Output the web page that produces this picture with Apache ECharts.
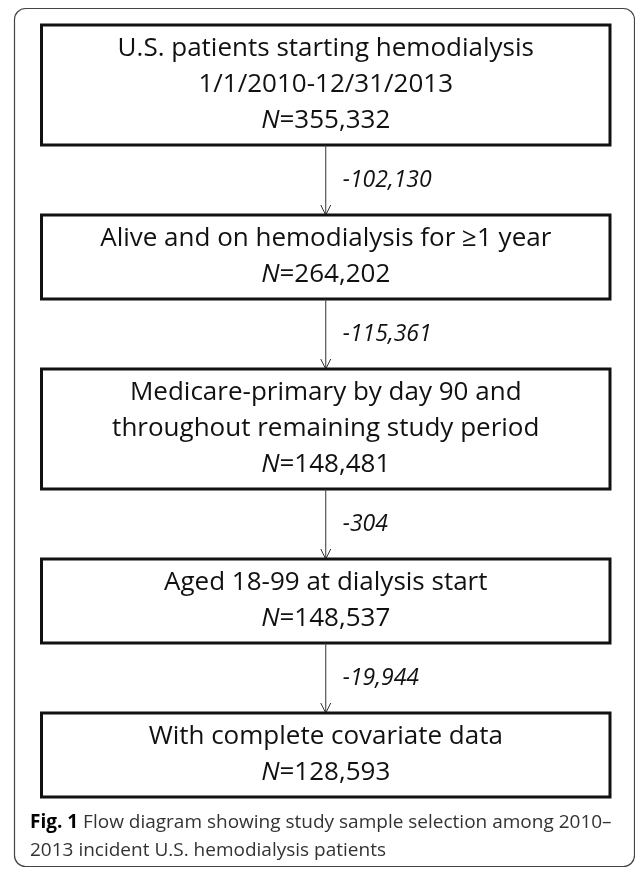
<!DOCTYPE html>
<html>
<head>
<meta charset="utf-8">
<title>Flow diagram</title>
<script src="https://cdn.jsdelivr.net/npm/echarts@6/dist/echarts.min.js"></script>
<style>
  html, body { margin: 0; padding: 0; background: #fff; }
  #chart { width: 635px; height: 869px; }
</style>
</head>
<body>
<div id="chart"></div>
<script>
'use strict';

// steps of the selection, top to bottom
var stepText = [
    ['U.S. patients starting hemodialysis', '1/1/2010-12/31/2013'],
    ['Alive and on hemodialysis for \u22651 year'],
    ['Medicare-primary by day 90 and', 'throughout remaining study period'],
    ['Aged 18-99 at dialysis start'],
    ['With complete covariate data']
];
var stepN = [355332, 264202, 148481, 148537, 128593];
// removed between one step and the next
var excluded = [102130, 115361, 304, 19944];

var captionBold = 'Fig. 1';
var captionLines = [
    'Flow diagram showing study sample selection among 2010\u2013',
    '2013 incident U.S. hemodialysis patients'
];

var W = 635, H = 869;
var FONT = '"Open Sans", sans-serif';

function fmt(n) {
    return n.toLocaleString('en-US');
}

// layout in page units (hidden axes map them to pixels)
var boxLeft = 41.5, boxRight = 610;
var lineH = 36, pad = 12, gap = 70;
var boxes = [];
var y = 25;
stepText.forEach(function (lines) {
    var h = (lines.length + 1) * lineH + pad;
    boxes.push({ top: y, bottom: y + h });
    y += h + gap;
});

function renderStep(params, api) {
    var i = api.value(0);
    var b = boxes[i];
    var p0 = api.coord([boxLeft, b.top]);
    var p1 = api.coord([boxRight, b.bottom]);
    var cx = (p0[0] + p1[0]) / 2;
    var label = stepText[i].join('\n') + '\n{i|N}=' + fmt(api.value(1));
    var children = [{
        type: 'rect',
        shape: { x: p0[0], y: p0[1], width: p1[0] - p0[0], height: p1[1] - p0[1] },
        style: { fill: '#fff', stroke: '#111', lineWidth: 3 }
    }, {
        type: 'text',
        style: {
            x: cx,
            y: (p0[1] + p1[1]) / 2,
            text: label,
            font: '26px ' + FONT,
            fill: '#111',
            align: 'center',
            verticalAlign: 'middle',
            lineHeight: lineH,
            rich: {
                i: { fontStyle: 'italic', fontSize: 26, fontFamily: FONT, lineHeight: lineH, color: '#111' }
            }
        }
    }];
    if (i < excluded.length) {
        var tip = api.coord([0, boxes[i + 1].top])[1];
        var from = p1[1];
        children.push({
            type: 'line',
            shape: { x1: cx, y1: from, x2: cx, y2: tip },
            style: { stroke: '#333', lineWidth: 1 }
        }, {
            type: 'polyline',
            shape: { points: [[cx - 5, tip - 10], [cx, tip], [cx + 5, tip - 10]] },
            style: { stroke: '#333', lineWidth: 1, fill: null }
        }, {
            type: 'text',
            style: {
                x: cx + 17,
                y: (from + tip) / 2,
                text: '-' + fmt(excluded[i]),
                font: 'italic 23px ' + FONT,
                fill: '#111',
                align: 'left',
                verticalAlign: 'middle'
            }
        });
    }
    return { type: 'group', children: children };
}

var myChart = echarts.init(document.getElementById('chart'));

var option = {
    animation: false,
    backgroundColor: '#fff',
    grid: { left: 0, right: 0, top: 0, bottom: 0 },
    xAxis: { type: 'value', min: 0, max: W, show: false },
    yAxis: { type: 'value', min: 0, max: H, inverse: true, show: false },
    title: {
        left: 30,
        top: 809,
        padding: 0,
        text: '{b|' + captionBold + '} ' + captionLines.join('\n'),
        textStyle: {
            fontFamily: FONT,
            fontSize: 19,
            fontWeight: 'normal',
            color: '#333',
            lineHeight: 28,
            rich: {
                b: { fontFamily: FONT, fontSize: 19, fontWeight: 'bold', color: '#000', lineHeight: 28 }
            }
        }
    },
    graphic: [{
        // outer frame of the figure
        type: 'rect',
        shape: { x: 14.5, y: 8.5, width: 620, height: 858, r: 11 },
        style: { fill: null, stroke: '#444', lineWidth: 1.2 },
        z: -1
    }],
    series: [{
        type: 'custom',
        coordinateSystem: 'cartesian2d',
        renderItem: renderStep,
        data: stepN.map(function (n, i) { return [i, n]; })
    }]
};

myChart.setOption(option);
</script>
</body>
</html>
